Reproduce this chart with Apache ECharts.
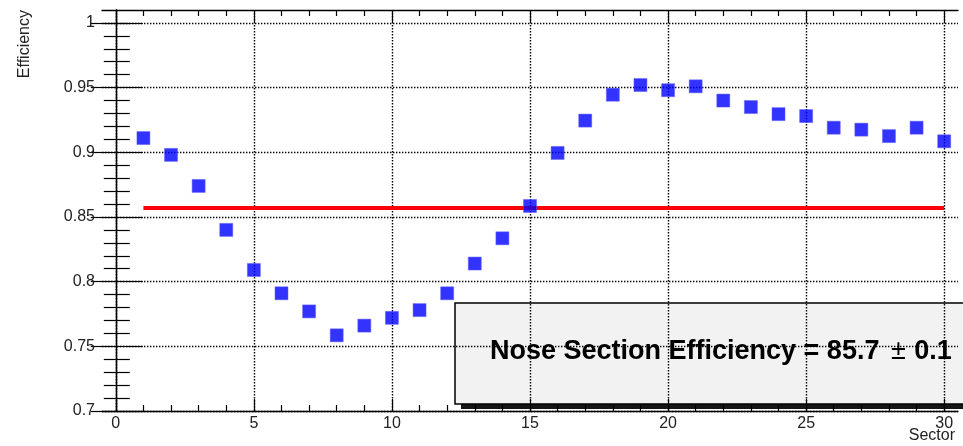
<!DOCTYPE html>
<html>
<head>
<meta charset="utf-8">
<script src="https://cdn.jsdelivr.net/npm/echarts@6/dist/echarts.min.js"></script>
<style>
  html, body { margin: 0; padding: 0; background: #fff; }
  #chart { width: 963px; height: 446px; }
</style>
</head>
<body>
<div id="chart"></div>
<script>
// Efficiency per sector
const sectors = [1, 2, 3, 4, 5, 6, 7, 8, 9, 10, 11, 12, 13, 14, 15,
                 16, 17, 18, 19, 20, 21, 22, 23, 24, 25, 26, 27, 28, 29, 30];
const efficiency = [0.911, 0.898, 0.874, 0.840, 0.809, 0.791, 0.777, 0.7585, 0.766, 0.772,
                    0.778, 0.791, 0.814, 0.8335, 0.8585, 0.8995, 0.9245, 0.9445, 0.952, 0.948,
                    0.951, 0.940, 0.935, 0.9295, 0.928, 0.919, 0.9175, 0.9125, 0.919, 0.9085];

// Mean efficiency drawn across the sector range
const meanEfficiency = 0.857;
const meanRange = [1, 30];
const summaryText = ['Nose Section Efficiency = 85.7 ', '\u00b1', ' 0.1'];

// Axis ranges, titles and tick values
const xTitle = 'Sector';
const yTitle = 'Efficiency';
const xRange = [-0.5, 30.5];
const yRange = [0.7, 1.01];
const xMajorTicks = [0, 5, 10, 15, 20, 25, 30];
const xMinorTicks = [1, 2, 3, 4, 6, 7, 8, 9, 11, 12, 13, 14, 16, 17, 18, 19,
                     21, 22, 23, 24, 26, 27, 28, 29];
const yMajorTicks = [0.7, 0.75, 0.8, 0.85, 0.9, 0.95, 1];
const yMinorTicks = [0.71, 0.72, 0.73, 0.74, 0.76, 0.77, 0.78, 0.79, 0.81, 0.82, 0.83, 0.84,
                     0.86, 0.87, 0.88, 0.89, 0.91, 0.92, 0.93, 0.94, 0.96, 0.97, 0.98, 0.99, 1.0];

const FONT = '"Liberation Sans", Arial, Helvetica, sans-serif';
const frameLine = { show: true, lineStyle: { color: '#000', width: 1.3 } };
const dotted = { show: true, lineStyle: { color: '#000', width: 1.4, type: [1.4, 1.6] } };

function xAxisDef(position, ticks, len, opts) {
  return Object.assign({
    type: 'value', position: position, min: xRange[0], max: xRange[1], offset: 0,
    axisLine: { show: false },
    axisTick: { show: true, inside: true, length: len, customValues: ticks,
                lineStyle: { color: '#000', width: 1.2 } },
    axisLabel: { show: false },
    splitLine: { show: false }
  }, opts || {});
}
function yAxisDef(position, ticks, len, opts) {
  return Object.assign({
    type: 'value', position: position, min: yRange[0], max: yRange[1], offset: 0,
    axisLine: { show: false },
    axisTick: { show: true, inside: true, length: len, customValues: ticks,
                lineStyle: { color: '#000', width: 1.2 } },
    axisLabel: { show: false },
    splitLine: { show: false }
  }, opts || {});
}

const chart = echarts.init(document.getElementById('chart'), null, { renderer: 'canvas' });

chart.setOption({
  animation: false,
  backgroundColor: '#fff',
  grid: { left: 102, right: 5, top: 10, bottom: 35, containLabel: false, outerBoundsMode: 'none' },
  xAxis: [
    xAxisDef('bottom', xMajorTicks, 12, {
      axisLine: frameLine,
      axisLabel: { show: true, customValues: xMajorTicks, margin: 5,
                   color: '#222', fontFamily: FONT, fontSize: 16 },
      splitLine: dotted
    }),
    xAxisDef('bottom', xMinorTicks, 6),
    xAxisDef('top', xMajorTicks, 12, { axisLine: frameLine }),
    xAxisDef('top', xMinorTicks, 6)
  ],
  yAxis: [
    yAxisDef('left', yMajorTicks, 27, {
      axisLine: frameLine,
      axisLabel: { show: true, customValues: yMajorTicks, margin: 7,
                   color: '#222', fontFamily: FONT, fontSize: 16 },
      splitLine: dotted
    }),
    yAxisDef('left', yMinorTicks, 14),
    yAxisDef('right', yMajorTicks, 25, { axisLine: frameLine }),
    yAxisDef('right', yMinorTicks, 12)
  ],
  series: [
    {
      name: 'Mean', type: 'line', xAxisIndex: 0, yAxisIndex: 0,
      data: [[meanRange[0], meanEfficiency], [meanRange[1], meanEfficiency]],
      showSymbol: false, symbol: 'none',
      lineStyle: { color: '#ff0000', width: 4 },
      z: 3
    },
    {
      name: 'Efficiency', type: 'scatter', xAxisIndex: 0, yAxisIndex: 0,
      data: sectors.map((s, i) => [s, efficiency[i]]),
      symbol: 'rect', symbolSize: 13,
      itemStyle: { color: '#0000ff', borderColor: '#5a5aff', borderWidth: 0.6 },
      z: 4
    }
  ],
  graphic: [
    {
      type: 'text', x: 25, y: 10, rotation: Math.PI / 2,
      style: { text: yTitle, fill: '#222', font: '16px ' + FONT,
               align: 'right', verticalAlign: 'middle' }
    },
    {
      type: 'text', x: 955, y: 428,
      style: { text: xTitle, fill: '#222', font: '16px ' + FONT,
               align: 'right', verticalAlign: 'top' }
    },
    {
      type: 'group', z: 100,
      children: [
        { type: 'rect', shape: { x: 461, y: 308, width: 520, height: 101 },
          style: { fill: '#151515' } },
        { type: 'rect', shape: { x: 455, y: 303, width: 520, height: 101 },
          style: { fill: '#f2f2f2', stroke: '#000', lineWidth: 1.5 } },
        { type: 'text', x: 490, y: 352,
          style: {
            text: '{b|' + summaryText[0] + '}{r|' + summaryText[1] + '}{b|' + summaryText[2] + '}',
            verticalAlign: 'middle', align: 'left',
            rich: {
              b: { fontFamily: FONT, fontSize: 27, fontWeight: 'bold', fill: '#000' },
              r: { fontFamily: FONT, fontSize: 27, fontWeight: 'normal', fill: '#000',
                   padding: [0, 1, 0, 4] }
            }
          } }
      ]
    }
  ]
});
</script>
</body>
</html>
